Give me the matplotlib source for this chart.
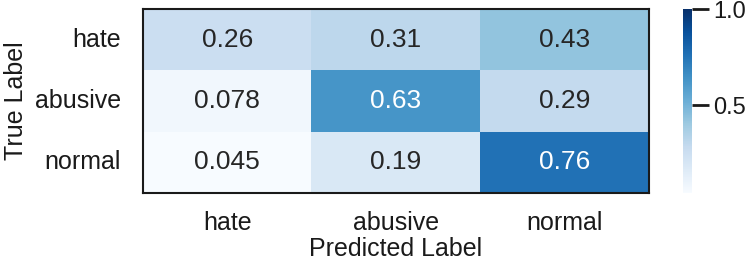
import matplotlib
matplotlib.use("Agg")
import matplotlib.pyplot as plt
import seaborn as sns
import numpy as np

labels = ["hate", "abusive", "normal"]
cm = np.array([[0.26, 0.31, 0.43],
               [0.078, 0.63, 0.29],
               [0.045, 0.19, 0.76]])

sns.set_theme(style="white")
plt.rcParams['font.family'] = ['Liberation Sans', 'DejaVu Sans']

fig = plt.figure(figsize=(7.48, 2.74), dpi=100)
ax = fig.add_axes([0.191, 0.295, 0.676, 0.672])
cax = fig.add_axes([0.913, 0.295, 0.012, 0.672])

sns.heatmap(cm, annot=True, fmt=".2g", cmap="Blues", vmax=1.0,
            xticklabels=labels, yticklabels=labels, ax=ax, cbar_ax=cax,
            annot_kws={"size": 19})

for s in ax.spines.values():
    s.set_visible(True)
    s.set_color("#1a1a1a")
    s.set_linewidth(1.5)

ax.tick_params(axis="both", length=0, labelsize=18, colors="#1a1a1a")
ax.tick_params(axis="y", pad=16)
ax.tick_params(axis="x", pad=13)
ax.set_yticklabels(labels, rotation=0)
ax.set_xlabel("Predicted Label", fontsize=18, color="#1a1a1a", labelpad=1)
ax.set_ylabel("True Label", fontsize=18, color="#1a1a1a", labelpad=5)

cbar = ax.collections[0].colorbar
cbar.outline.set_visible(False)
cbar.set_ticks([0.5, 1.0])
cbar.set_ticklabels(["0.5", "1.0"])
cax.tick_params(axis="y", length=12, width=2, labelsize=17, colors="#1a1a1a", right=True)

fig.savefig("out.png", dpi=100)
